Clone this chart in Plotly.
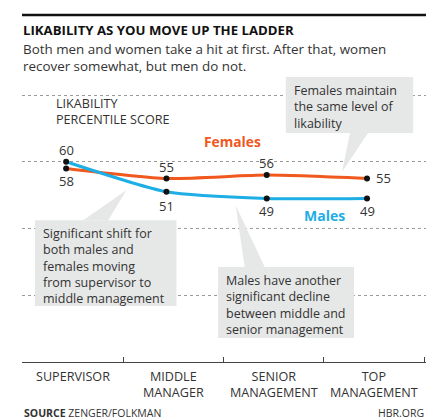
import plotly.graph_objects as go

# --- DATA ---
categories = ["SUPERVISOR", "MIDDLE<br>MANAGER", "SENIOR<br>MANAGEMENT", "TOP<br>MANAGEMENT"]
females = [58, 55, 56, 55]
males = [60, 51, 49, 49]
y_ticks = [0, 20, 40, 60, 80]

# --- STYLE ---
FONT = "Open Sans"
TEXT = "#333333"
ORANGE = "#F0581E"
BLUE = "#1DAEE5"
BOX = "#E6E7E7"

x_idx = list(range(len(categories)))
boundaries = [i - 0.43 for i in range(len(categories) + 1)]

fig = go.Figure()

fig.add_trace(go.Scatter(
    x=x_idx, y=females, mode="lines+markers", name="Females",
    line=dict(color=ORANGE, width=3, shape="spline", smoothing=0.6),
    marker=dict(color="#111111", size=6), hoverinfo="skip"))
fig.add_trace(go.Scatter(
    x=x_idx, y=males, mode="lines+markers", name="Males",
    line=dict(color=BLUE, width=3, shape="spline", smoothing=0.6),
    marker=dict(color="#111111", size=6), hoverinfo="skip"))

# value labels
fem_pos = [(0, -13), (0, 11), (0, 12), (16, 0)]
mal_pos = [(0, 12), (0, -14), (0, -13), (0, -13)]
for vals, pos in ((females, fem_pos), (males, mal_pos)):
    for i, v in enumerate(vals):
        fig.add_annotation(x=i, y=v, text=str(v), showarrow=False,
                           xshift=pos[i][0], yshift=pos[i][1],
                           font=dict(family=FONT, size=13, color=TEXT))

# series names
fig.add_annotation(x=1.66, y=66.2, text="<b>Females</b>", showarrow=False,
                   font=dict(family=FONT, size=13.8, color=ORANGE))
fig.add_annotation(x=2.58, y=44.0, text="<b>Males</b>", showarrow=False,
                   font=dict(family=FONT, size=14, color=BLUE))

# category labels
for i, c in enumerate(categories):
    fig.add_annotation(x=i, y=-0.015, yref="paper", text=c, showarrow=False,
                       xshift=7, yanchor="top", align="center",
                       font=dict(family=FONT, size=12.6, color=TEXT))

# callout boxes: (box corners, pointer base, pointer tip, text)
callouts = [
    ((2.19, 68.6, 3.46, 85.4), (2.83, 3.01, 68.6), (2.75, 56.9),
     "Females maintain<br>the same level of<br>likability"),
    ((-0.31, 16.8, 1.10, 42.5), (0.17, 0.42, 42.5), (0.60, 51.5),
     "Significant shift for<br>both males and<br>females moving<br>from supervisor to<br>middle management"),
    ((1.515, 7.2, 2.87, 28.5), (1.78, 1.98, 28.5), (1.69, 47.0),
     "Males have another<br>significant decline<br>between middle and<br>senior management"),
]
for (x0, y0, x1, y1), (bx0, bx1, by), (tx, ty), txt in callouts:
    fig.add_shape(type="rect", x0=x0, x1=x1, y0=y0, y1=y1, xref="x", yref="y",
                  fillcolor=BOX, line_width=0, layer="between")
    fig.add_shape(type="path", path=f"M {bx0} {by} L {tx} {ty} L {bx1} {by} Z",
                  xref="x", yref="y", fillcolor=BOX, line_width=0, layer="between")
    fig.add_annotation(x=x0 + 0.07, y=y1 - 1.2, text=txt, showarrow=False,
                       xanchor="left", yanchor="top", align="left", borderpad=0,
                       font=dict(family=FONT, size=12.5, color=TEXT))

# y axis caption
fig.add_annotation(x=-0.115, y=80.2, text="LIKABILITY<br>PERCENTILE SCORE", showarrow=False,
                   xanchor="left", yanchor="top", align="left", borderpad=0,
                   font=dict(family=FONT, size=12.6, color=TEXT))

# heading, top rule, footer
fig.add_shape(type="line", xref="paper", yref="paper", x0=0, x1=1, y0=1.188, y1=1.188,
              line=dict(color="#111111", width=2.5))
fig.add_annotation(xref="paper", yref="paper", x=0, y=1.137, xanchor="left", yanchor="middle",
                   text="<b>LIKABILITY AS YOU MOVE UP THE LADDER</b>", showarrow=False,
                   borderpad=0, font=dict(family=FONT, size=13.2, color="#111111"))
fig.add_annotation(xref="paper", yref="paper", x=0, y=1.042, xanchor="left", yanchor="middle",
                   align="left", showarrow=False, borderpad=0,
                   text="Both men and women take a hit at first. After that, women<br>recover somewhat, but men do not.",
                   font=dict(family=FONT, size=13.4, color=TEXT))
fig.add_annotation(xref="paper", yref="paper", x=0, y=-0.175, xanchor="left", yanchor="middle",
                   text="<b>SOURCE</b> ZENGER/FOLKMAN", showarrow=False,
                   font=dict(family=FONT, size=10.5, color=TEXT))
fig.add_annotation(xref="paper", yref="paper", x=1, y=-0.175, xanchor="right", yanchor="middle",
                   text="HBR.ORG", showarrow=False,
                   font=dict(family=FONT, size=10.5, color=TEXT))

fig.update_xaxes(range=[-0.44, 3.588], tickvals=boundaries, ticktext=[""] * len(boundaries),
                 ticks="inside", ticklen=5, tickcolor="#444444", tickwidth=1,
                 showline=True, linecolor="#444444", linewidth=1.2,
                 showgrid=False, zeroline=False, fixedrange=True)
fig.update_yaxes(range=[0, 87.5], tickvals=y_ticks, showticklabels=False,
                 showgrid=True, gridcolor="#9a9a9a", griddash="dot", gridwidth=1,
                 zeroline=False, showline=False, fixedrange=True)

# the page puts the figure 8px in from the top-left corner, so it is drawn 8px smaller
fig.update_layout(
    width=428, height=411, showlegend=False,
    margin=dict(l=14, r=10, t=62, b=57),
    paper_bgcolor="white", plot_bgcolor="white",
    font=dict(family=FONT, color=TEXT),
)

fig.write_html("out.html")
